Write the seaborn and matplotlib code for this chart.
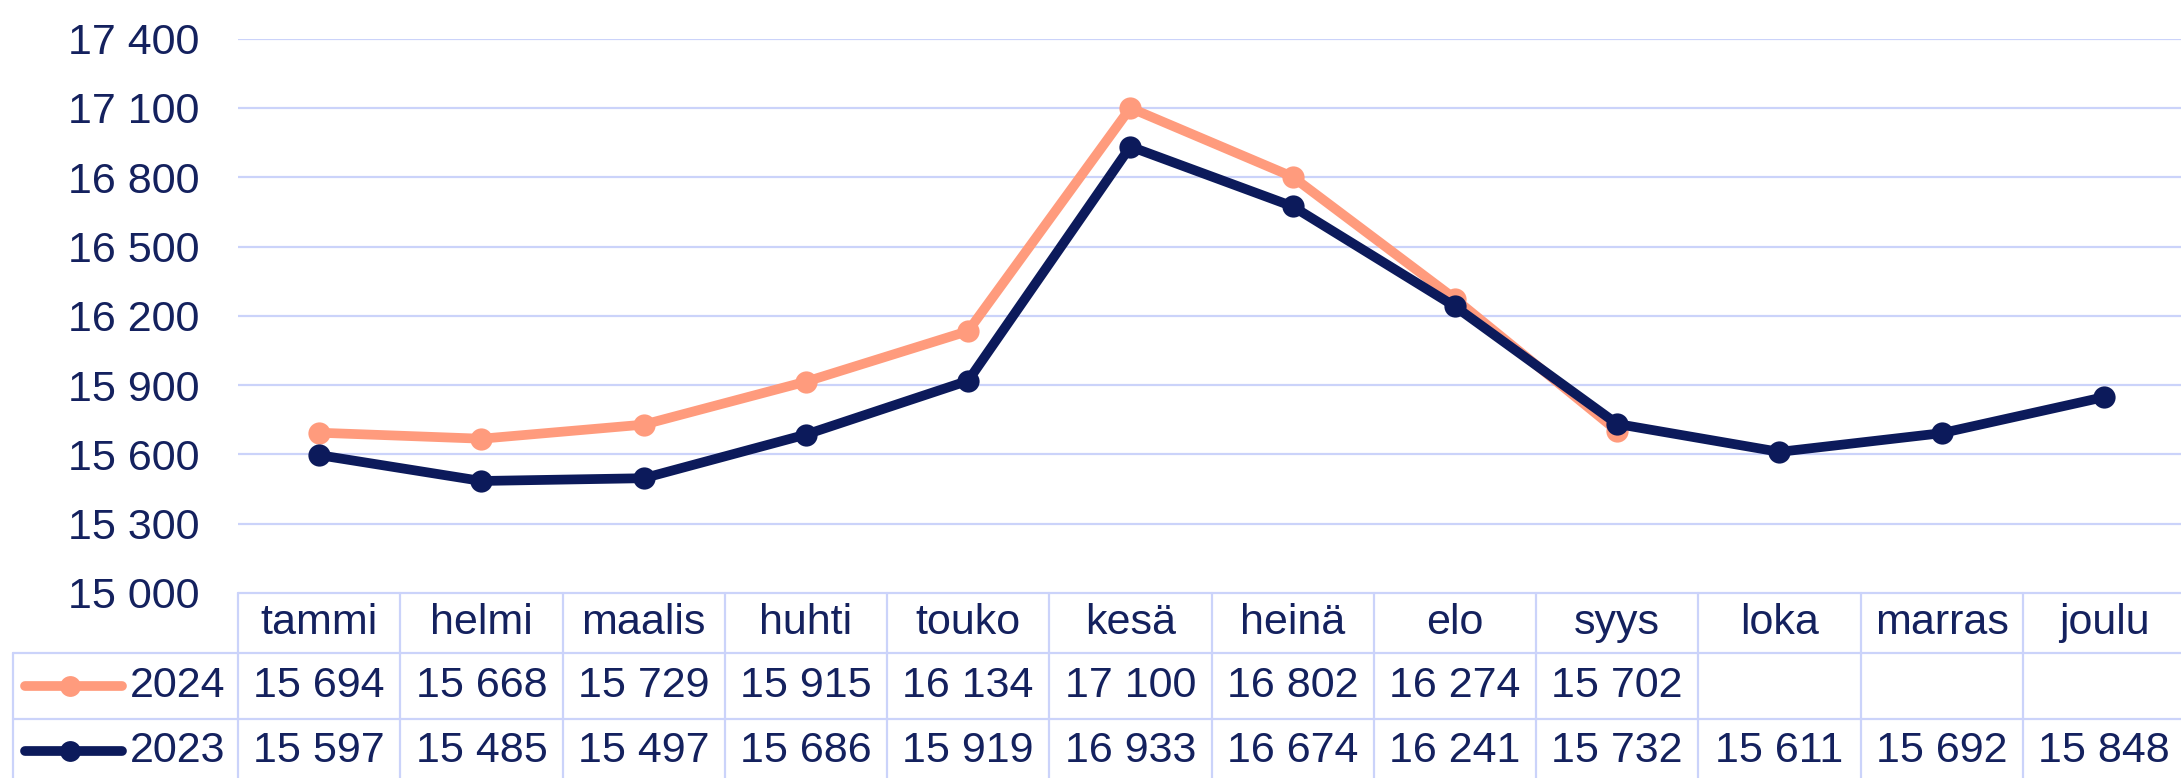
import matplotlib
matplotlib.use("Agg")
import matplotlib.pyplot as plt
import seaborn as sns
import pandas as pd
from matplotlib.lines import Line2D
from matplotlib.transforms import blended_transform_factory

# ---- data ----
months = ["tammi", "helmi", "maalis", "huhti", "touko", "kesä",
          "heinä", "elo", "syys", "loka", "marras", "joulu"]
values_2024 = [15694, 15668, 15729, 15915, 16134, 17100, 16802, 16274, 15702]
values_2023 = [15597, 15485, 15497, 15686, 15919, 16933, 16674, 16241, 15732,
               15611, 15692, 15848]
series_names = ["2024", "2023"]
y_ticks = [15000, 15300, 15600, 15900, 16200, 16500, 16800, 17100, 17400]

# ---- styles ----
c2024 = "#FF9B7D"
c2023 = "#0C1A5B"
text_c = "#14215E"
grid_c = "#CBD3FA"
fs = 31

sns.set_theme(style="white")
plt.rcParams["font.family"] = ["Liberation Sans", "DejaVu Sans"]

W, H = 2181, 778
fig = plt.figure(figsize=(W / 100, H / 100), dpi=100)

ax_left, ax_right = 238, 2185
ax_top, ax_bottom = 38.7, 593
ax = fig.add_axes([ax_left / W, 1 - ax_bottom / H,
                   (ax_right - ax_left) / W, (ax_bottom - ax_top) / H])

rows = []
for name, vals in zip(series_names, [values_2024, values_2023]):
    for i, v in enumerate(vals):
        rows.append({"x": i, "value": v, "year": name})
df = pd.DataFrame(rows)

sns.lineplot(data=df, x="x", y="value", hue="year", hue_order=series_names,
             palette={"2024": c2024, "2023": c2023}, marker="o",
             markersize=16, markeredgewidth=0, linewidth=7, ax=ax,
             legend=False)

ax.set_xlim(-0.5, len(months) - 0.5)
ax.set_ylim(y_ticks[0], y_ticks[-1])
ax.set_yticks(y_ticks)
ax.set_yticklabels([f"{t:,}".replace(",", " ") for t in y_ticks],
                   fontsize=fs, color=text_c)
ax.tick_params(axis="y", length=0, pad=28)
ax.set_xticks([])
ax.set_xlabel("")
ax.set_ylabel("")
for s in ax.spines.values():
    s.set_visible(False)
for t in y_ticks[1:]:
    ax.axhline(t, color=grid_c, lw=1.6, zorder=0)
ax.set_axisbelow(True)

# ---- data table ----
def fy(py):
    return 1 - py / H

def fx(px):
    return px / W

bt = blended_transform_factory(ax.transData, fig.transFigure)
tbl_top, hdr_bot, row1_bot, row2_bot = 593, 653, 719, 785
leg_left = 13
lw_t = 1.6
n = len(months)

# horizontal lines
fig.add_artist(Line2D([fx(ax_left), 1.0], [fy(tbl_top)] * 2, color=grid_c, lw=lw_t))
for yy in (hdr_bot, row1_bot, row2_bot):
    fig.add_artist(Line2D([fx(leg_left), 1.0], [fy(yy)] * 2, color=grid_c, lw=lw_t))
# vertical lines
for i in range(n + 1):
    ax.add_line(Line2D([i - 0.5, i - 0.5], [fy(tbl_top), fy(row2_bot)],
                       transform=bt, color=grid_c, lw=lw_t, clip_on=False))
fig.add_artist(Line2D([fx(leg_left)] * 2, [fy(hdr_bot), fy(row2_bot)],
                      color=grid_c, lw=lw_t))

# header
for i, m in enumerate(months):
    ax.text(i, fy((tbl_top + hdr_bot) / 2), m, transform=bt, ha="center",
            va="center", fontsize=fs, color=text_c, clip_on=False)

row_centers = [(hdr_bot + row1_bot) / 2, (row1_bot + row2_bot) / 2 - 1]
for name, vals, col, rc in zip(series_names, [values_2024, values_2023],
                               [c2024, c2023], row_centers):
    for i, v in enumerate(vals):
        ax.text(i, fy(rc), f"{v:,}".replace(",", " "), transform=bt,
                ha="center", va="center", fontsize=fs, color=text_c,
                clip_on=False)
    fig.add_artist(Line2D([fx(25), fx(122)], [fy(rc)] * 2, color=col, lw=7,
                          solid_capstyle="round"))
    fig.add_artist(Line2D([fx(70)], [fy(rc)], color=col, marker="o",
                          markersize=15, markeredgewidth=0))
    fig.text(fx(225), fy(rc), name, ha="right", va="center", fontsize=fs,
             color=text_c)

fig.savefig("out.png", dpi=100, facecolor="white")
